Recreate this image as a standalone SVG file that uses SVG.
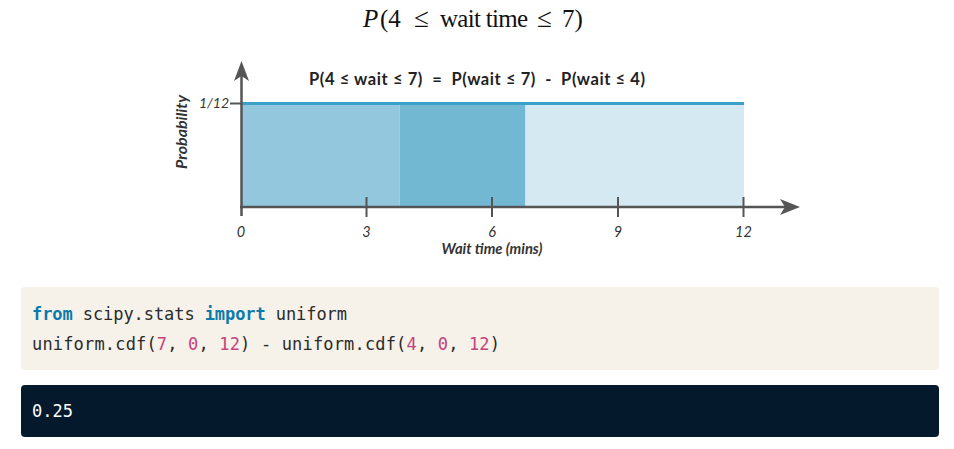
<svg xmlns="http://www.w3.org/2000/svg" width="954" height="449" viewBox="0 0 954 449">
<style>
.axis{stroke:#555;stroke-width:2.5;fill:none}
.tick{stroke:#555;stroke-width:2}
.lbl{font-family:Lato,"Liberation Sans",sans-serif;font-style:italic;font-size:14.5px;fill:#333;text-anchor:middle}
.code{font-family:"DejaVu Sans Mono","Liberation Mono",monospace;font-size:17px;fill:#2b2b2b;white-space:pre}
.kw{font-weight:bold;fill:#0b7bab}
.num{fill:#c4437c}
</style>
<rect width="954" height="449" fill="#ffffff"/>
<g id="title" font-family="'Liberation Serif',serif" font-size="25" fill="#111">
<text y="27" xml:space="preserve"><tspan x="363" font-style="italic">P</tspan><tspan x="380">(4</tspan><tspan x="414" font-size="27">≤</tspan><tspan x="440" textLength="88" lengthAdjust="spacing">wait time</tspan><tspan x="537" font-size="27">≤</tspan><tspan x="562">7)</tspan></text>
</g>
<g id="chart">
<rect x="242" y="104" width="157.5" height="102" fill="#92c7dd"/>
<rect x="399.5" y="104" width="126" height="102" fill="#72b8d3"/>
<rect x="525.5" y="104" width="218.5" height="102" fill="#d5e9f3"/>
<line x1="242" y1="103.5" x2="744" y2="103.5" stroke="#3aa2c9" stroke-width="3"/>
<text x="309" y="85" font-family="Lato,'Liberation Sans',sans-serif" font-weight="bold" font-size="16.5" fill="#222" xml:space="preserve" textLength="336" lengthAdjust="spacing">P(4 ≤ wait ≤ 7)  =  P(wait ≤ 7)  -  P(wait ≤ 4)</text>
</g>
<g id="axes">
<line class="axis" x1="241.5" y1="216" x2="241.5" y2="76"/>
<path d="M241.5,61 L249,81 L241.5,76 L234,81 Z" fill="#555"/>
<line class="axis" x1="240" y1="207" x2="785" y2="207"/>
<path d="M800,207 L780,199 L785,207 L780,215 Z" fill="#555"/>
<line class="tick" x1="230" y1="103.5" x2="242" y2="103.5"/>
<line class="tick" x1="366.5" y1="197" x2="366.5" y2="217"/>
<line class="tick" x1="492" y1="197" x2="492" y2="217"/>
<line class="tick" x1="618" y1="197" x2="618" y2="217"/>
<line class="tick" x1="743.5" y1="197" x2="743.5" y2="217"/>
<text class="lbl" x="241" y="236.5">0</text>
<text class="lbl" x="366.5" y="236.5">3</text>
<text class="lbl" x="492" y="236.5">6</text>
<text class="lbl" x="618" y="236.5">9</text>
<text class="lbl" x="743.5" y="236.5">12</text>
<text class="lbl" x="214" y="108" style="font-size:14px">1/12</text>
<text class="lbl" x="492" y="253.5" font-weight="bold" fill="#222" textLength="101" lengthAdjust="spacingAndGlyphs" style="font-size:14.2px">Wait time (mins)</text>
<text class="lbl" x="0" y="0" font-weight="bold" fill="#222" style="font-size:16px" transform="translate(187,132) rotate(-90)">Probability</text>
</g>
<g id="code">
<rect x="21" y="287" width="918" height="83" rx="4" fill="#f6f1e9"/>
<text class="code" x="32" y="320" textLength="315" lengthAdjust="spacing"><tspan class="kw">from</tspan> scipy.stats <tspan class="kw">import</tspan> uniform</text>
<text class="code" x="32" y="350" textLength="468" lengthAdjust="spacing">uniform.cdf(<tspan class="num">7</tspan>, <tspan class="num">0</tspan>, <tspan class="num">12</tspan>) - uniform.cdf(<tspan class="num">4</tspan>, <tspan class="num">0</tspan>, <tspan class="num">12</tspan>)</text>
</g>
<g id="output">
<rect x="21" y="385" width="918" height="52" rx="4" fill="#05192d"/>
<text class="code" x="32" y="417" textLength="41" lengthAdjust="spacing" style="fill:#ffffff">0.25</text>
</g>
</svg>
